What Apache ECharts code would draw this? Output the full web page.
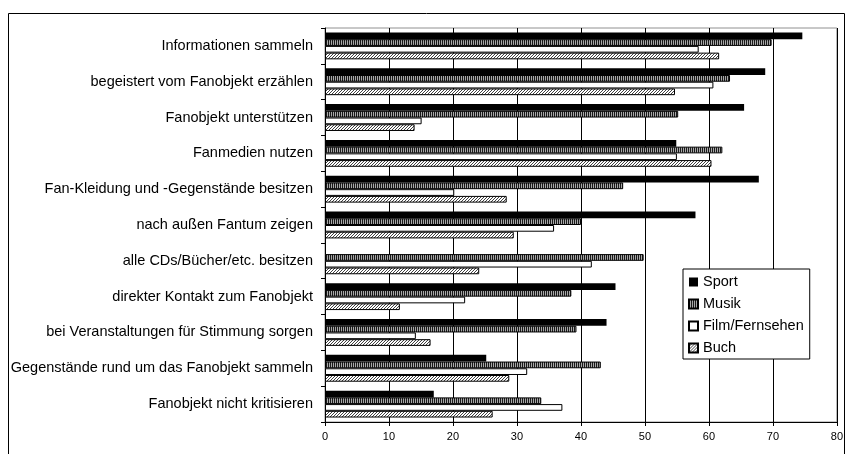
<!DOCTYPE html>
<html>
<head>
<meta charset="utf-8">
<script src="https://cdn.jsdelivr.net/npm/echarts@6/dist/echarts.min.js"></script>
<style>
html,body{margin:0;padding:0;background:#fff;}
#chart{width:846px;height:454px;}
</style>
</head>
<body>
<div id="chart"></div>
<script>
const categories = [
  'Informationen sammeln',
  'begeistert vom Fanobjekt erzählen',
  'Fanobjekt unterstützen',
  'Fanmedien nutzen',
  'Fan-Kleidung und -Gegenstände besitzen',
  'nach außen Fantum zeigen',
  'alle CDs/Bücher/etc. besitzen',
  'direkter Kontakt zum Fanobjekt',
  'bei Veranstaltungen für Stimmung sorgen',
  'Gegenstände rund um das Fanobjekt sammeln',
  'Fanobjekt nicht kritisieren'
];
const sport = [74.6, 68.8, 65.5, 54.9, 67.8, 57.9, null, 45.4, 44.0, 25.2, 17.0];
const musik = [69.8, 63.3, 55.2, 62.1, 46.6, 40.0, 49.8, 38.5, 39.3, 43.1, 33.8];
const film = [58.4, 60.7, 15.1, 55.0, 20.2, 35.8, 41.7, 21.9, 14.2, 31.6, 37.1];
const buch = [61.6, 54.7, 14.0, 60.4, 28.4, 29.5, 24.1, 11.7, 16.5, 28.8, 26.2];
const seriesNames = ['Sport', 'Musik', 'Film/Fernsehen', 'Buch'];
const xTicks = { min: 0, max: 80, interval: 10 };

function stripePattern() {
  const c = document.createElement('canvas');
  c.width = 2; c.height = 2;
  const g = c.getContext('2d');
  g.fillStyle = '#a8a8a8'; g.fillRect(0, 0, 2, 2);
  g.fillStyle = '#1a1a1a'; g.fillRect(0, 0, 1, 2);
  return c;
}
function hatchPattern() {
  const c = document.createElement('canvas');
  c.width = 3; c.height = 3;
  const g = c.getContext('2d');
  g.fillStyle = '#ffffff'; g.fillRect(0, 0, 3, 3);
  g.fillStyle = '#404040';
  for (let i = 0; i < 3; i++) g.fillRect(i, 2 - i, 1, 1);
  return c;
}

const font = '"Liberation Sans", Arial, sans-serif';
const chart = echarts.init(document.getElementById('chart'), null, { renderer: 'canvas' });

const styles = [
  { color: '#000000', borderColor: '#000', borderWidth: 0 },
  { color: { image: stripePattern(), repeat: 'repeat' }, borderColor: '#000', borderWidth: 1 },
  { color: '#ffffff', borderColor: '#000', borderWidth: 1 },
  { color: { image: hatchPattern(), repeat: 'repeat' }, borderColor: '#000', borderWidth: 1 }
];
const dataSets = [sport, musik, film, buch];

chart.setOption({
  animation: false,
  backgroundColor: '#fff',
  textStyle: { fontFamily: font },
  graphic: [{
    type: 'rect',
    shape: { x: 8.5, y: 13.5, width: 836, height: 460 },
    style: { fill: 'none', stroke: '#000', lineWidth: 1 },
    silent: true,
    z: -1
  }],
  grid: {
    left: 325, right: 8, top: 28, bottom: 32,
    show: true, borderColor: '#909090', borderWidth: 1, backgroundColor: 'transparent'
  },
  legend: {
    orient: 'vertical',
    left: 683, top: 269,
    padding: [2, 6, 0, 5],
    itemWidth: 9, itemHeight: 9, itemGap: 0,
    backgroundColor: '#fff',
    borderColor: '#000', borderWidth: 1,
    icon: 'rect',
    textStyle: { fontFamily: font, fontSize: 14.5, color: '#000', lineHeight: 22 },
    data: seriesNames
  },
  xAxis: {
    type: 'value',
    min: xTicks.min, max: xTicks.max, interval: xTicks.interval,
    axisLine: { show: true, lineStyle: { color: '#000', width: 1 } },
    axisTick: { show: true, length: 4, lineStyle: { color: '#000' } },
    axisLabel: { fontFamily: font, fontSize: 11, color: '#000', margin: 9 },
    splitLine: { show: true, lineStyle: { color: '#000', width: 1 } }
  },
  yAxis: {
    type: 'category',
    data: categories,
    inverse: true,
    axisLine: { show: true, lineStyle: { color: '#000', width: 1 } },
    axisTick: { show: true, length: 4, lineStyle: { color: '#000' } },
    axisLabel: { fontFamily: font, fontSize: 14.5, color: '#000', margin: 12 }
  },
  series: seriesNames.map((n, i) => ({
    name: n,
    type: 'bar',
    data: dataSets[i],
    barGap: '0%',
    barCategoryGap: '25%',
    itemStyle: styles[i]
  }))
});
</script>
</body>
</html>
